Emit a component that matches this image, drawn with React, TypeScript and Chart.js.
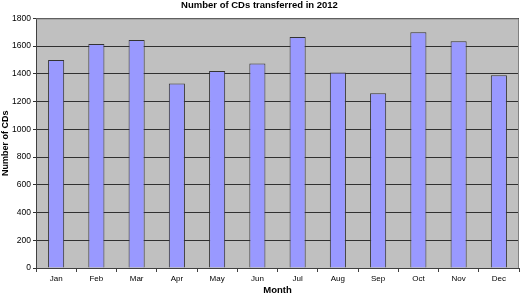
import React, { useEffect, useRef } from "react";
import { Chart, registerables } from "chart.js";

Chart.register(...registerables);

const months = ["Jan", "Feb", "Mar", "Apr", "May", "Jun", "Jul", "Aug", "Sep", "Oct", "Nov", "Dec"];
const cdsTransferred = [1500, 1615, 1645, 1330, 1420, 1475, 1665, 1410, 1260, 1700, 1635, 1390];
const chartTitle = "Number of CDs transferred in 2012";
const xTitle = "Month";
const yTitle = "Number of CDs";

const FONT = "'Liberation Sans', Arial, sans-serif";

const plotBg = {
  id: "plotBg",
  beforeDraw(chart: any) {
    const { ctx, chartArea } = chart;
    if (!chartArea) return;
    ctx.save();
    ctx.fillStyle = "#c0c0c0";
    ctx.fillRect(chartArea.left, chartArea.top, chartArea.right - chartArea.left, chartArea.bottom - chartArea.top);
    ctx.restore();
  },
  afterDraw(chart: any) {
    const { ctx, chartArea } = chart;
    ctx.save();
    ctx.strokeStyle = "#808080";
    ctx.lineWidth = 1;
    ctx.beginPath();
    ctx.moveTo(chartArea.left, chartArea.top + 0.5);
    ctx.lineTo(chartArea.right - 0.5, chartArea.top + 0.5);
    ctx.lineTo(chartArea.right - 0.5, chartArea.bottom);
    ctx.stroke();
    ctx.restore();
  },
};

export default function App() {
  const ref = useRef<HTMLCanvasElement>(null);
  useEffect(() => {
    const chart = new Chart(ref.current!, {
      type: "bar",
      data: {
        labels: months,
        datasets: [
          {
            data: cdsTransferred,
            backgroundColor: "#9999ff",
            borderColor: "#333333",
            borderWidth: 1,
            barPercentage: 0.4,
            categoryPercentage: 1,
          },
        ],
      },
      options: {
        responsive: false,
        animation: false,
        layout: { padding: { left: 0, right: 1, top: 0, bottom: 0 } },
        plugins: {
          legend: { display: false },
          tooltip: { enabled: false },
          title: {
            display: true,
            text: chartTitle,
            color: "#000",
            font: { family: FONT, size: 9.5, weight: "bold" },
            padding: { top: 0, bottom: 7 },
          },
        },
        scales: {
          x: {
            grid: { drawOnChartArea: false, drawTicks: true, tickLength: 4, color: "#404040", offset: true },
            border: { color: "#404040" },
            ticks: { color: "#000", font: { family: FONT, size: 8 }, padding: 2, maxRotation: 0 },
            title: { display: true, text: xTitle, color: "#000", font: { family: FONT, size: 9.5, weight: "bold" }, padding: { top: 2, bottom: 0 } },
            afterFit: (s: any) => { s.height = 28; },
          },
          y: {
            min: 0,
            max: 1800,
            ticks: { stepSize: 200, color: "#000", font: { family: FONT, size: 8.5 }, padding: 2, callback: (v: any) => String(v) },
            grid: { color: "#303030", lineWidth: 1, tickLength: 3 },
            border: { color: "#404040" },
            title: { display: true, text: yTitle, color: "#000", font: { family: FONT, size: 9, weight: "bold" }, padding: 0 },
            afterFit: (s: any) => { s.width = 36; },
          },
        },
      },
      plugins: [plotBg],
    });
    return () => chart.destroy();
  }, []);
  return (
    <div style={{ position: "fixed", left: 0, top: 0, width: 520, height: 296, background: "#fff" }}>
      <canvas ref={ref} width={520} height={296} />
    </div>
  );
}
